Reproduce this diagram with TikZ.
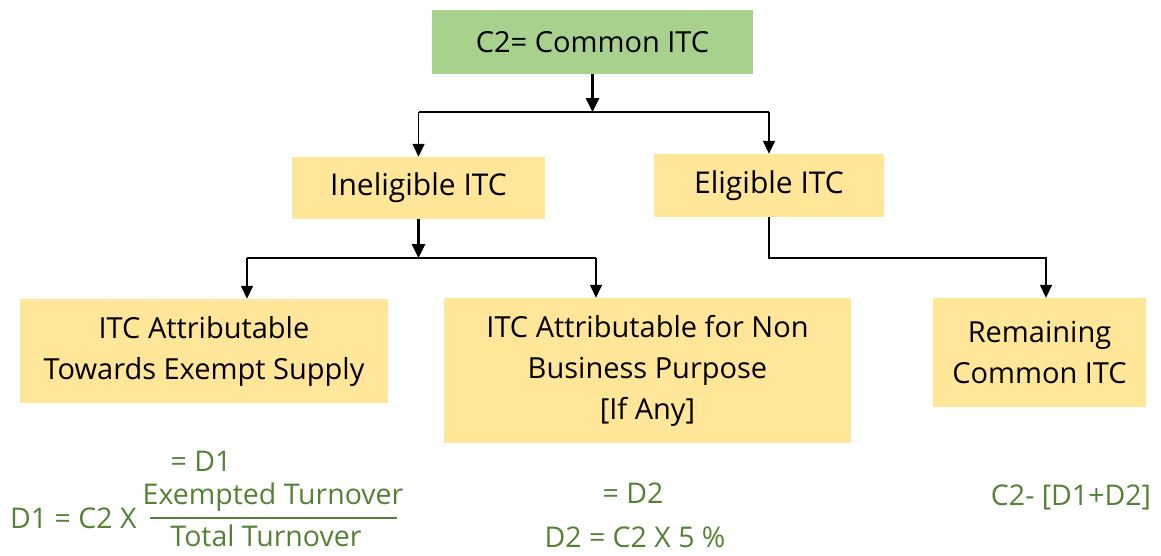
\documentclass[tikz,border=0pt]{standalone}
\usepackage{fontspec}
\setmainfont{Open Sans}
\usetikzlibrary{arrows.meta}
\definecolor{boxgreen}{HTML}{A9D18E}
\definecolor{boxyellow}{HTML}{FFE699}
\definecolor{textgreen}{HTML}{548235}
\tikzset{
  topbox/.style={fill=boxgreen, inner sep=0pt, font=\fontsize{29}{32}\selectfont},
  midbox/.style={fill=boxyellow, inner sep=0pt, font=\fontsize{30}{34}\selectfont},
  leafbox/.style={fill=boxyellow, inner sep=0pt, align=center, font=\fontsize{29}{41}\selectfont},
  formula/.style={text=textgreen, inner sep=0pt, font=\fontsize{28.5}{32}\selectfont},
  thickarrow/.style={line width=3pt, -{Triangle[width=13pt,length=14pt]}},
  thinarrow/.style={line width=1.5pt, -{Triangle[width=12pt,length=13pt]}},
  thinline/.style={line width=1.5pt},
}
\begin{document}
\begin{tikzpicture}[x=1pt,y=-1pt]
\useasboundingbox (0,0) rectangle (1161,555);

% boxes
\node[topbox, minimum width=321pt, minimum height=64pt] (c2) at (592.5,42) {C2= Common ITC};
\node[midbox, minimum width=253pt, minimum height=62pt] (inel) at (418.5,188) {Ineligible ITC};
\node[midbox, minimum width=230pt, minimum height=63pt] (elig) at (769,185.5) {Eligible ITC};
\node[leafbox, minimum width=368pt, minimum height=104pt] (exempt) at (204,351) {ITC Attributable\\Towards Exempt Supply};
\node[leafbox, minimum width=407pt, minimum height=145pt] (nonbus) at (647.5,370.5) {ITC Attributable for Non\\Business Purpose\\{[If Any]}};
\node[leafbox, minimum width=213pt, minimum height=109pt] (remain) at (1039.5,352.5) {Remaining\\Common ITC};

% junction points
\coordinate (j1) at (592.5,112);
\coordinate (j1l) at (418.5,112);
\coordinate (j1r) at (769,112);
\coordinate (j2) at (418.5,258);
\coordinate (j2l) at (247,258);
\coordinate (j2r) at (596,258);
\coordinate (j3) at (769,258);
\coordinate (j3r) at (1046,258);

% first level split
\draw[thickarrow] (c2.south) -- (j1);
\draw[thinline] (j1l) -- (j1r);
\draw[thinarrow] (j1l) -- (inel.north);
\draw[thinarrow] (j1r) -- (elig.north);

% second level split
\draw[thickarrow] (inel.south) -- (j2);
\draw[thinline] (j2l) -- (j2r);
\draw[thinarrow] (j2l) -- (j2l |- exempt.north);
\draw[thinarrow] (j2r) -- (j2r |- nonbus.north);

% eligible branch
\draw[thinarrow] (elig.south) -- (j3) -- (j3r) -- (j3r |- remain.north);

% formulas
\node[formula] (d1eq) at (201,461) {= D1};
\node[formula, anchor=west] (d1lhs) at (10,518) {D1 = C2 X};
\node[formula] (num) at (273,497) {Exempted Turnover};
\node[formula] (den) at (266,536) {Total Turnover};
\draw[textgreen, line width=2.5pt] (150,518) -- (397,518);
\node[formula] (d2eq) at (633,493) {= D2};
\node[formula] (d2) at (635,537) {D2 = C2 X 5 \%};
\node[formula] (rem) at (1071,497) {C2- [D1+D2]};
\end{tikzpicture}
\end{document}
